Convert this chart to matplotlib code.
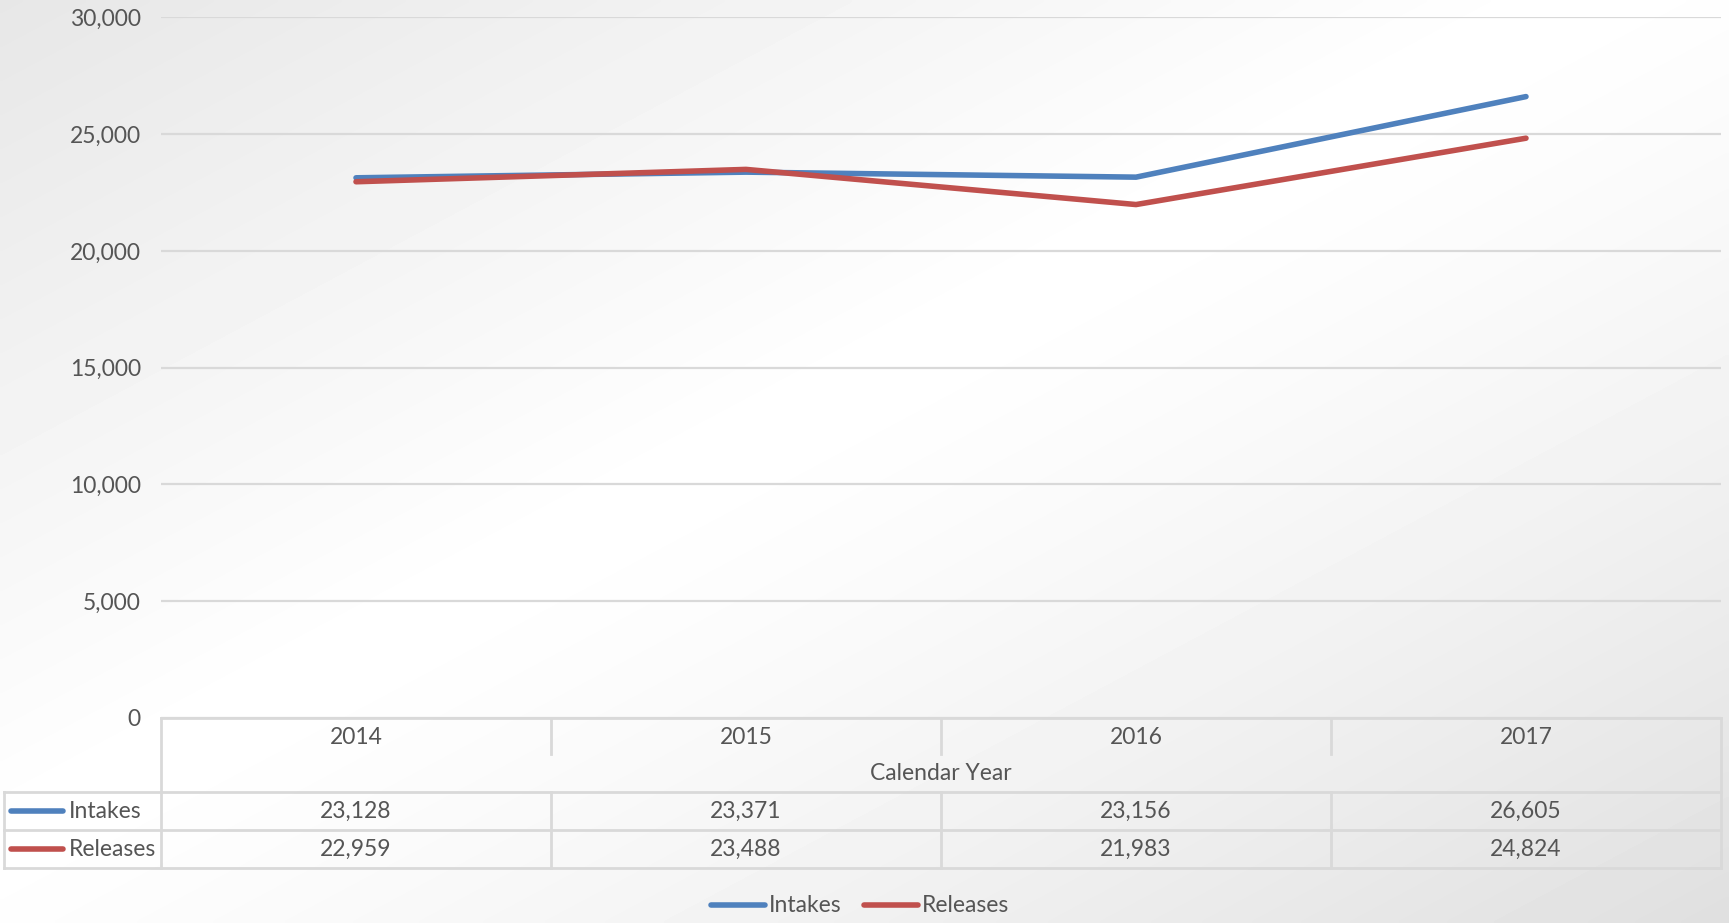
import numpy as np
import matplotlib
matplotlib.use("Agg")
import matplotlib.pyplot as plt

years = ["2014", "2015", "2016", "2017"]
intakes = [23128, 23371, 23156, 26605]
releases = [22959, 23488, 21983, 24824]
series_names = ["Intakes", "Releases"]
colors = ["#4F81BD", "#C0504D"]
yticks = [0, 5000, 10000, 15000, 20000, 25000, 30000]
x_title = "Calendar Year"

W, H = 1729, 923
DPI = 100
plt.rcParams['font.family'] = ['Lato', 'DejaVu Sans']
TXT = "#555555"
GRID = "#D9D9D9"
FS = 16.5

fig = plt.figure(figsize=(W / DPI, H / DPI), dpi=DPI)

# background gradient
bg = fig.add_axes([0, 0, 1, 1], zorder=0)
xx, yy = np.meshgrid(np.linspace(0, 1, 400), np.linspace(0, 1, 220))
t = (xx + yy) / 2.0
c = np.where(t < 0.45, 0.905 + (1 - 0.905) * (t / 0.45),
             1.0 - (1.0 - 0.875) * ((t - 0.45) / 0.55) ** 1.3)
bg.imshow(c, cmap="gray", vmin=0, vmax=1, aspect="auto", extent=[0, W, H, 0], interpolation="bilinear")
bg.set_xlim(0, W)
bg.set_ylim(H, 0)
bg.axis("off")

# plot area
left, right, top, bottom = 161, 1721, 17.3, 718
ax = fig.add_axes([left / W, (H - bottom) / H, (right - left) / W, (bottom - top) / H], zorder=2)
ax.patch.set_alpha(0)
xs = np.arange(len(years)) + 0.5
ax.set_xlim(0, len(years))
ax.set_ylim(0, 30000)
ax.set_yticks(yticks)
ax.set_yticklabels([f"{v:,}" for v in yticks], color=TXT, fontsize=FS)
ax.tick_params(axis="y", length=0, pad=14.5)
ax.set_xticks([])
ax.grid(axis="y", color=GRID, linewidth=1.6)
ax.set_axisbelow(True)
for s in ax.spines.values():
    s.set_visible(False)
for vals, col in zip([intakes, releases], colors):
    ax.plot(xs, vals, color=col, linewidth=4.0, solid_capstyle="round", zorder=3)

# overlay for table and legend
ov = fig.add_axes([0, 0, 1, 1], zorder=3)
ov.set_xlim(0, W)
ov.set_ylim(H, 0)
ov.axis("off")
ov.patch.set_alpha(0)

lw = 2.0
colw = (right - left) / len(years)
seps = [left + colw * i for i in range(1, len(years))]
hdr_bot, r1, r2 = 792, 830, 868
y_year, y_title, y_i, y_r = 737, 773, 811, 849
# header
ov.plot([left, right], [bottom, bottom], color=GRID, lw=lw)
ov.plot([left, left], [bottom, r2], color=GRID, lw=lw)
ov.plot([right, right], [bottom, r2], color=GRID, lw=lw)
for sx in seps:
    ov.plot([sx, sx], [bottom, 754], color=GRID, lw=lw)
    ov.plot([sx, sx], [hdr_bot, r2], color=GRID, lw=lw)
for yv in [hdr_bot, r1, r2]:
    ov.plot([4, right], [yv, yv], color=GRID, lw=lw)
ov.plot([4, 4], [hdr_bot, r2], color=GRID, lw=lw)

for i, yr in enumerate(years):
    cx = left + colw * (i + 0.5)
    ov.text(cx, y_year, yr, ha="center", va="center", color=TXT, fontsize=FS)
    ov.text(cx, y_i, f"{intakes[i]:,}", ha="center", va="center", color=TXT, fontsize=FS)
    ov.text(cx, y_r, f"{releases[i]:,}", ha="center", va="center", color=TXT, fontsize=FS)
ov.text((left + right) / 2, y_title, x_title, ha="center", va="center", color=TXT, fontsize=FS)

for ry, name, col in zip([y_i, y_r], series_names, colors):
    ov.plot([11, 63], [ry, ry], color=col, lw=4.0, solid_capstyle="round")
    ov.text(69, ry, name, ha="left", va="center", color=TXT, fontsize=FS)

# bottom legend
for x0, name, col in zip([711, 864], series_names, colors):
    ov.plot([x0, x0 + 54], [905, 905], color=col, lw=4.0, solid_capstyle="round")
    ov.text(x0 + 58, 905, name, ha="left", va="center", color=TXT, fontsize=FS)

fig.savefig("out.png", dpi=DPI)
